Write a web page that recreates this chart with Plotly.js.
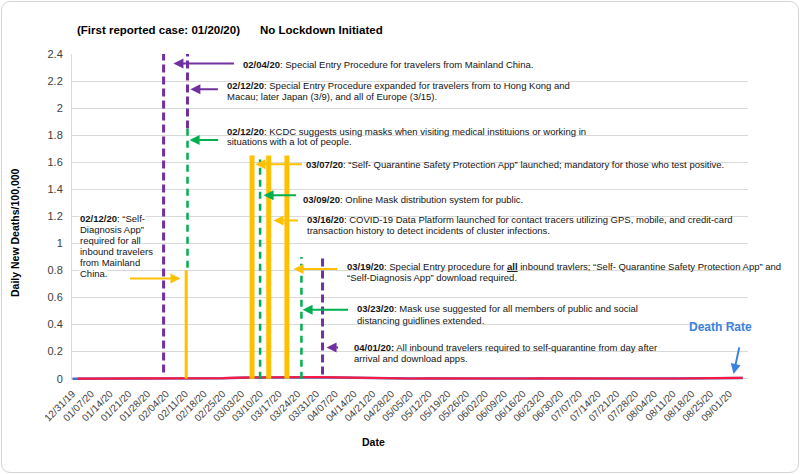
<!DOCTYPE html>
<html><head><meta charset="utf-8">
<script src="https://cdn.plot.ly/plotly-3.0.1.min.js"></script>
<style>
body{margin:0;background:#fff}
#frame{position:absolute;left:1px;top:1px;width:796px;height:470px;border:1px solid #d4d4d4;border-radius:9px;pointer-events:none}
</style>
</head><body>
<div id="chart" style="width:800px;height:474px"></div>
<div id="frame"></div>
<script>
// ---- tick dates and labels ----
const tickDates = ['2019-12-31','2020-01-07','2020-01-14','2020-01-21','2020-01-28','2020-02-04','2020-02-11','2020-02-18','2020-02-25','2020-03-03','2020-03-10','2020-03-17','2020-03-24','2020-03-31','2020-04-07','2020-04-14','2020-04-21','2020-04-28','2020-05-05','2020-05-12','2020-05-19','2020-05-26','2020-06-02','2020-06-09','2020-06-16','2020-06-23','2020-06-30','2020-07-07','2020-07-14','2020-07-21','2020-07-28','2020-08-04','2020-08-11','2020-08-18','2020-08-25','2020-09-01'];
const tickLabels = ['12/31/19','01/07/20','01/14/20','01/21/20','01/28/20','02/04/20','02/11/20','02/18/20','02/25/20','03/03/20','03/10/20','03/17/20','03/24/20','03/31/20','04/07/20','04/14/20','04/21/20','04/28/20','05/05/20','05/12/20','05/19/20','05/26/20','06/02/20','06/09/20','06/16/20','06/23/20','06/30/20','07/07/20','07/14/20','07/21/20','07/28/20','08/04/20','08/11/20','08/18/20','08/25/20','09/01/20'];
const yTickValues = [0,0.2,0.4,0.6,0.8,1,1.2,1.4,1.6,1.8,2,2.2,2.4];
const yTickLabels = ['0','0.2','0.4','0.6','0.8','1','1.2','1.4','1.6','1.8','2','2.2','2.4'];

// ---- death rate series (daily new deaths per 100,000) ----
const blueDates = ['2019-12-31','2020-01-07','2020-01-14','2020-01-21','2020-01-28','2020-02-04','2020-02-11','2020-02-18','2020-02-25','2020-03-03','2020-03-10','2020-03-17','2020-03-24','2020-03-31','2020-04-07','2020-04-14','2020-04-21','2020-04-28','2020-05-05','2020-05-12','2020-05-19','2020-05-26','2020-06-02','2020-06-09','2020-06-16','2020-06-23','2020-06-30','2020-07-07','2020-07-14','2020-07-21','2020-07-28','2020-08-04','2020-08-11','2020-08-18','2020-08-25','2020-09-01','2020-09-06'];
const blueValues = [0,0,0,0,0,0,0,0,0.003,0.007,0.009,0.011,0.009,0.011,0.008,0.005,0.003,0.002,0.001,0.002,0.001,0.001,0.001,0.002,0.001,0.002,0.001,0.002,0.001,0.002,0.001,0.001,0.001,0.002,0.004,0.007,0.005];
const redDates = ['2020-01-02','2020-01-07','2020-01-14','2020-01-21','2020-01-28','2020-02-04','2020-02-11','2020-02-18','2020-02-25','2020-03-03','2020-03-10','2020-03-17','2020-03-24','2020-03-31','2020-04-07','2020-04-14','2020-04-21','2020-04-28','2020-05-05','2020-05-12','2020-05-19','2020-05-26','2020-06-02','2020-06-09','2020-06-16','2020-06-23','2020-06-30','2020-07-07','2020-07-14','2020-07-21','2020-07-28','2020-08-04','2020-08-11','2020-08-18','2020-08-25','2020-09-01','2020-09-06'];
const redValues = [0,0,0,0,0,0,0,0,0.004,0.008,0.010,0.012,0.010,0.012,0.009,0.006,0.003,0.002,0.001,0.002,0.001,0.001,0.001,0.002,0.001,0.002,0.001,0.002,0.001,0.003,0.001,0.001,0.001,0.002,0.005,0.008,0.006];

// ---- policy event markers (date, bottom value, top value) ----
const purpleDates = ['2020-02-03','2020-02-11 22:00','2020-04-02 07:00'];
const purpleBottoms = [0.045, 1.85, 0.03];
const purpleTops = [2.4, 2.4, 0.9];
const greenDates = ['2020-02-11 22:00','2020-03-10','2020-03-25 10:00'];
const greenBottoms = [0.82, 0, 0];
const greenTops = [1.85, 1.62, 0.9];
const yellowThinDates = ['2020-02-11 10:00'];
const yellowThinTops = [0.8];
const yellowBarDates = ['2020-03-07','2020-03-13 05:00','2020-03-20'];
const yellowBarTops = [1.65, 1.65, 1.65];

// ---- arrow heads (date, value) ----
const arrowDates = ['2020-02-06 16:00','2020-02-13','2020-02-12 17:00','2020-03-08 07:00','2020-03-11 07:00','2020-03-15','2020-03-22 12:00','2020-03-25 20:00','2020-04-03 19:00','2020-02-09 07:00','2020-09-02 15:00'];
const arrowValues = [2.33, 2.14, 1.765, 1.585, 1.355, 1.17, 0.81, 0.51, 0.23, 0.74, 0.035];

// ---- texts ----
const noteTexts = [
 '<b>02/04/20</b>: Special Entry Procedure for travelers from Mainland China.',
 '<b>02/12/20</b>: Special Entry Procedure expanded for travelers from to Hong Kong and<br>Macau; later Japan (3/9), and all of Europe (3/15).',
 '<b>02/12/20</b>: KCDC suggests using masks when visiting medical instituions or working in<br>situations with a lot of people.',
 '<b>03/07/20</b>: \u201cSelf- Quarantine Safety Protection App\u201d launched; mandatory for those who test positive.',
 '<b>03/09/20</b>: Online Mask distribution system for public.',
 '<b>03/16/20</b>: COVID-19 Data Platform launched for contact tracers utilizing GPS, mobile, and credit-card<br>transaction history to detect incidents of cluster infections.',
 '<b>03/19/20</b>: Special Entry procedure for <b><span style="text-decoration:underline">all</span></b> inbound travlers; \u201cSelf- Quarantine Safety Protection App\u201d and<br>\u201cSelf-Diagnosis App\u201d download required.',
 '<b>03/23/20</b>: Mask use suggested for all members of public and social<br>distancing guidlines extended.',
 '<b>04/01/20:</b> All inbound travelers required to self-quarantine from day after<br>arrival and download apps.',
 '<b>02/12/20</b>: \u201cSelf-<br>Diagnosis App\u201d<br>required for all<br>inbound travelers<br>from Mainland<br>China.'
];
const headerTexts = ['(First reported case: 01/20/20)', 'No Lockdown Initiated'];
const seriesLabel = 'Death Rate';
const xTitle = 'Date';
const yTitle = 'Daily New Deaths/100,000';

// ---- styles / layout helpers ----
const PURPLE = '#7030a0', GREEN = '#00b050', YELLOW = '#ffc000', BLUE = '#3b82e0';
const FONT = 'Liberation Sans, Arial, sans-serif';
const PL = 72, PR = 748, PT = 54, PB = 380;
const px2x = p => (p - PL) / (PR - PL);
const px2y = p => (PB - p) / (PB - PT);

const traces = [
  {x: blueDates, y: blueValues, type: 'scatter', mode: 'lines', line: {color: '#4472c4', width: 2.5}, hoverinfo: 'skip', showlegend: false},
  {x: redDates, y: redValues, type: 'scatter', mode: 'lines', line: {color: '#ff1744', width: 2.2}, hoverinfo: 'skip', showlegend: false}
];

const shapes = [];
// white text-box areas hiding gridlines (as in the original chart)
const masks = [[219,748,74,150],[302,748,157,170],[300,667,183,205],[300,748,210,252],[342,748,259,285],[352,667,292,328],[350,675,341,364],[688,748,318,337]];
masks.forEach(m => shapes.push({type: 'rect', xref: 'paper', yref: 'paper', x0: px2x(m[0]), x1: px2x(m[1]), y0: px2y(m[3]), y1: px2y(m[2]), fillcolor: '#ffffff', line: {width: 0}, layer: 'between'}));
function vline(d, y0, y1, color, width, dash) {
  shapes.push({type: 'line', xref: 'x', yref: 'y', x0: d, x1: d, y0: y0, y1: y1, line: {color: color, width: width, dash: dash}});
}
purpleDates.forEach((d, i) => vline(d, purpleBottoms[i], purpleTops[i], PURPLE, 3, '8px,4px'));
greenDates.forEach((d, i) => vline(d, greenBottoms[i], greenTops[i], GREEN, 2.5, '7px,5px'));
yellowThinDates.forEach((d, i) => vline(d, 0, yellowThinTops[i], YELLOW, 3, 'solid'));
yellowBarDates.forEach((d, i) => vline(d, 0, yellowBarTops[i], YELLOW, 5, 'solid'));

const arrowStyle = [
  {c: PURPLE, ax: 62, ay: 0}, {c: PURPLE, ax: 29, ay: 0}, {c: GREEN, ax: 30, ay: 0},
  {c: YELLOW, ax: 48, ay: 0}, {c: GREEN, ax: 34, ay: 0}, {c: YELLOW, ax: 26, ay: 0},
  {c: YELLOW, ax: 45, ay: 0}, {c: GREEN, ax: 47, ay: 0}, {c: PURPLE, ax: 13, ay: 0},
  {c: YELLOW, ax: -52, ay: 0}, {c: BLUE, ax: 6, ay: -28}
];
const annotations = [];
arrowDates.forEach((d, i) => {
  const s = arrowStyle[i];
  annotations.push({x: d, y: arrowValues[i], xref: 'x', yref: 'y', text: '', showarrow: true,
    ax: s.ax, ay: s.ay, arrowcolor: s.c, arrowwidth: 2, arrowhead: 2, arrowsize: 1});
});

// note positions: left edge px, center px of block, line spacing px
const notePos = [[242,64,11],[226,90.5,11],[226,136.5,9.5],[305,164,11],[302,199,11],[306,224.5,11],[346,271.5,11],[356,314,12],[353,352.5,11],[79,246,10.9]];
noteTexts.forEach((t, i) => {
  const lines = t.split('<br>');
  const [lx, cy, sp] = notePos[i];
  lines.forEach((ln, j) => {
    const py = cy + (j - (lines.length - 1) / 2) * sp;
    annotations.push({x: px2x(lx), y: px2y(py), xref: 'paper', yref: 'paper', text: ln,
      showarrow: false, xanchor: 'left', yanchor: 'middle', align: 'left', borderpad: 0,
      bgcolor: i === 9 ? '#ffffff' : 'rgba(0,0,0,0)',
      font: {family: FONT, size: 9.5, color: '#141414'}});
  });
});
annotations.push({x: px2x(75), y: px2y(30), xref: 'paper', yref: 'paper', text: '<b>' + headerTexts[0] + '</b>', showarrow: false, xanchor: 'left', yanchor: 'middle', font: {family: FONT, size: 11.5, color: '#000'}});
annotations.push({x: px2x(258), y: px2y(30), xref: 'paper', yref: 'paper', text: '<b>' + headerTexts[1] + '</b>', showarrow: false, xanchor: 'left', yanchor: 'middle', font: {family: FONT, size: 11.5, color: '#000'}});
annotations.push({x: px2x(720), y: px2y(327), xref: 'paper', yref: 'paper', text: '<b>' + seriesLabel + '</b>', showarrow: false, xanchor: 'center', yanchor: 'middle', font: {family: FONT, size: 12, color: BLUE}});
annotations.push({x: px2x(373), y: px2y(442), xref: 'paper', yref: 'paper', text: '<b>' + xTitle + '</b>', showarrow: false, xanchor: 'center', yanchor: 'middle', font: {family: FONT, size: 10.5, color: '#000'}});
annotations.push({x: px2x(15), y: px2y(233), xref: 'paper', yref: 'paper', text: '<b>' + yTitle + '</b>', showarrow: false, textangle: -90, xanchor: 'center', yanchor: 'middle', font: {family: FONT, size: 10.5, color: '#000'}});

const layout = {
  width: 800, height: 474,
  margin: {l: PL, r: 800 - PR, t: PT, b: 474 - PB},
  paper_bgcolor: '#ffffff', plot_bgcolor: '#ffffff',
  showlegend: false,
  font: {family: FONT},
  xaxis: {
    type: 'date', range: ['2019-12-30 20:00', '2020-09-08'],
    tickvals: tickDates, ticktext: tickLabels, tickangle: -45,
    tickfont: {family: FONT, size: 10, color: '#404040'},
    showgrid: false, zeroline: false, showline: false, ticks: '', ticklabelstandoff: 5
  },
  yaxis: {
    range: [-0.01, 2.4], tickvals: yTickValues, ticktext: yTickLabels,
    tickfont: {family: FONT, size: 11, color: '#404040'},
    showgrid: true, gridcolor: '#d9d9d9', gridwidth: 1, zeroline: false,
    showline: true, linecolor: '#d9d9d9', ticks: '', ticklabelstandoff: 6
  },
  shapes: shapes,
  annotations: annotations
};

Plotly.newPlot('chart', traces, layout, {displayModeBar: false, staticPlot: true});
</script>
</body></html>
